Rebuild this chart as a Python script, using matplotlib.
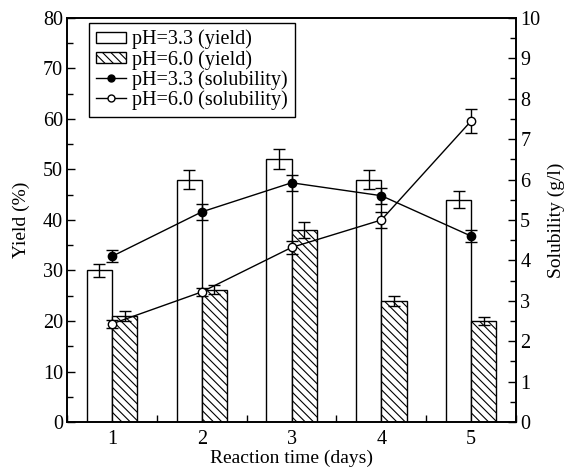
import numpy as np
import matplotlib.pyplot as plt
from matplotlib.lines import Line2D
from matplotlib.ticker import MultipleLocator

plt.rcParams['font.family'] = ['Liberation Serif', 'DejaVu Serif']
plt.rcParams['hatch.linewidth'] = 0.8

days = np.array([1, 2, 3, 4, 5])

yield_ph33 = [30, 48, 52, 48, 44]
yield_ph33_err = [1.3, 1.8, 2.0, 1.8, 1.7]
yield_ph60 = [21, 26.2, 38, 24, 20]
yield_ph60_err = [0.9, 0.9, 1.6, 1.0, 0.7]

sol_ph33 = [4.1, 5.2, 5.92, 5.6, 4.6]
sol_ph33_err = [0.15, 0.2, 0.2, 0.2, 0.15]
sol_ph60 = [2.43, 3.22, 4.32, 5.0, 7.45]
sol_ph60_err = [0.1, 0.1, 0.15, 0.2, 0.3]

w = 0.28

fig = plt.figure(figsize=(5.64, 4.70), dpi=100)
ax = fig.add_axes([0.119, 0.102, 0.796, 0.860])
ax2 = ax.twinx()

b1 = ax.bar(days - w / 2, yield_ph33, w, yerr=yield_ph33_err, color='white',
            edgecolor='black', linewidth=1.0, capsize=4,
            error_kw=dict(elinewidth=1.0, capthick=1.0))
b2 = ax.bar(days + w / 2, yield_ph60, w, yerr=yield_ph60_err, color='white',
            edgecolor='black', linewidth=1.0, hatch=r'\\\\', capsize=4,
            error_kw=dict(elinewidth=1.0, capthick=1.0))

ax2.errorbar(days, sol_ph33, yerr=sol_ph33_err, color='black', lw=1.0,
             marker='o', ms=6, mfc='black', mec='black', capsize=4, capthick=1.0)
ax2.errorbar(days, sol_ph60, yerr=sol_ph60_err, color='black', lw=1.0,
             marker='o', ms=6, mfc='white', mec='black', capsize=4, capthick=1.0)

ax.set_xlim(0.5, 5.5)
ax.set_ylim(0, 80)
ax2.set_ylim(0, 10)

ax.set_xticks(days)
ax.xaxis.set_minor_locator(MultipleLocator(0.5))
ax.yaxis.set_major_locator(MultipleLocator(10))
ax.yaxis.set_minor_locator(MultipleLocator(5))
ax2.yaxis.set_major_locator(MultipleLocator(1))
ax2.yaxis.set_minor_locator(MultipleLocator(0.5))

for a in (ax, ax2):
    a.tick_params(which='both', direction='in', labelsize=14.5, width=1.0)
    a.tick_params(which='major', length=6)
    a.tick_params(which='minor', length=4)
    for s in a.spines.values():
        s.set_linewidth(1.2)
ax.tick_params(axis='x', which='major', length=0, pad=6)
ax.tick_params(axis='x', which='minor', length=5)
ax.tick_params(axis='y', pad=3)
ax2.tick_params(axis='y', pad=3)

ax.set_xlabel('Reaction time (days)', fontsize=14, labelpad=0)
ax.set_ylabel('Yield (%)', fontsize=14, labelpad=9)
ax2.set_ylabel('Solubility (g/l)', fontsize=14, labelpad=5)

# legend handles: plain line+marker for the solubility series
h3 = Line2D([], [], color='black', lw=1.0, marker='o', ms=5, mfc='black', mec='black')
h4 = Line2D([], [], color='black', lw=1.0, marker='o', ms=5, mfc='white', mec='black')
handles = [b1, b2, h3, h4]
labels = ['pH=3.3 (yield)', 'pH=6.0 (yield)', 'pH=3.3 (solubility)', 'pH=6.0 (solubility)']
leg = ax.legend(handles, labels, loc='upper left',
                bbox_to_anchor=(0.048, 0.988), fontsize=14.5, frameon=True,
                fancybox=False, edgecolor='black', framealpha=1,
                handlelength=1.5, handleheight=0.5, handletextpad=0.3,
                labelspacing=0.02, borderpad=0.35, borderaxespad=0.0)
leg.get_frame().set_linewidth(1.0)

fig.savefig('out.png', dpi=100)
